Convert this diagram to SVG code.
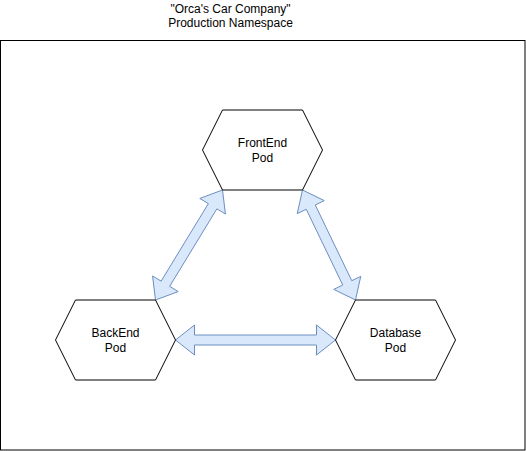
<svg xmlns="http://www.w3.org/2000/svg" width="526" height="451" viewBox="0 0 526 451">
<style>
text{font-family:"Liberation Sans",Arial,sans-serif;font-size:12px;fill:#000;text-anchor:middle}
.hex{fill:#fff;stroke:#000;stroke-width:1}
.arr{fill:#dae8fc;stroke:#6c8ebf;stroke-width:1;stroke-linejoin:miter}
</style>
<rect width="526" height="451" fill="#fff"/>
<g id="namespace">
<rect x="0.5" y="40.5" width="524.5" height="409.5" fill="#fff" stroke="#000" stroke-width="1"/>
<text x="230.5" y="12.5">"Orca's Car Company"</text>
<text x="230.5" y="26.5">Production Namespace</text>
</g>
<g id="connectors">
<polygon class="arr" points="222.5,190 225.43,214.03 216.89,208.83 169.65,286.37 178.19,291.57 155.5,300 152.57,275.97 161.11,281.17 208.35,203.63 199.81,198.43"/>
<polygon class="arr" points="302.5,190 324.26,200.61 315.25,204.95 351.75,280.71 360.76,276.37 355.5,300 333.74,289.39 342.75,285.05 306.25,209.29 297.24,213.63"/>
<polygon class="arr" points="175.5,340 194.5,325 194.5,335 316.5,335 316.5,325 335.5,340 316.5,355 316.5,345 194.5,345 194.5,355"/>
</g>
<g id="frontend">
<polygon class="hex" points="222.5,110 302.5,110 322.5,150 302.5,190 222.5,190 202.5,150"/>
<text x="262.5" y="147">FrontEnd</text>
<text x="262.5" y="161.5">Pod</text>
</g>
<g id="backend">
<polygon class="hex" points="75.5,300 155.5,300 175.5,340 155.5,380 75.5,380 55.5,340"/>
<text x="115.5" y="337">BackEnd</text>
<text x="115.5" y="351.5">Pod</text>
</g>
<g id="database">
<polygon class="hex" points="355.5,300 435.5,300 455.5,340 435.5,380 355.5,380 335.5,340"/>
<text x="395.5" y="337">Database</text>
<text x="395.5" y="351.5">Pod</text>
</g>
</svg>
